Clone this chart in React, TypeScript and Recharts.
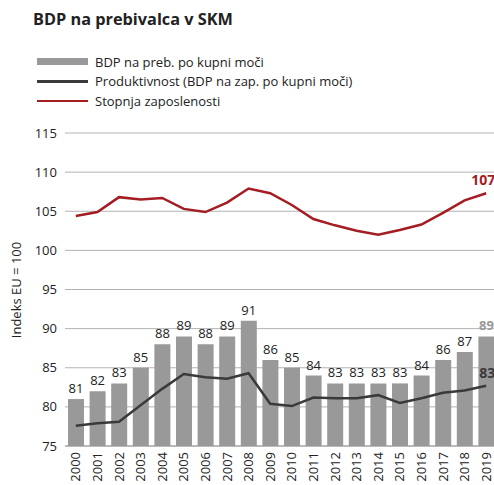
import { ComposedChart, Bar, Line, XAxis, YAxis, CartesianGrid, LabelList } from "recharts"

const years = ["2000", "2001", "2002", "2003", "2004", "2005", "2006", "2007", "2008", "2009", "2010", "2011", "2012", "2013", "2014", "2015", "2016", "2017", "2018", "2019"]
const bdpPerCapita = [81, 82, 83, 85, 88, 89, 88, 89, 91, 86, 85, 84, 83, 83, 83, 83, 84, 86, 87, 89]
const productivity = [77.6, 77.9, 78.1, 80.2, 82.3, 84.2, 83.8, 83.6, 84.3, 80.4, 80.1, 81.2, 81.1, 81.1, 81.5, 80.5, 81.1, 81.8, 82.1, 82.7]
const employmentRate = [104.4, 104.9, 106.8, 106.5, 106.7, 105.3, 104.9, 106.1, 107.9, 107.3, 105.8, 104.0, 103.2, 102.5, 102.0, 102.6, 103.3, 104.8, 106.4, 107.3]
const productivityLast = 83
const employmentLast = 107
const yTicks = [75, 80, 85, 90, 95, 100, 105, 110, 115]

const data = years.map((year, i) => ({
  year,
  bdp: bdpPerCapita[i],
  prod: productivity[i],
  emp: employmentRate[i],
}))

const FONT = "'Open Sans', sans-serif"
const BAR = "#999999"
const DARK = "#3a3a3a"
const RED = "#a31d23"
const last = years.length - 1

const legendItems = [
  { label: "BDP na preb. po kupni moči", color: BAR, bar: true },
  { label: "Produktivnost (BDP na zap. po kupni moči)", color: DARK, bar: false },
  { label: "Stopnja zaposlenosti", color: RED, bar: false },
]

function YearTick(props: any) {
  const { x, y, payload } = props
  return (
    <text
      x={x}
      y={y}
      dy="0.35em"
      transform={`rotate(-90 ${x} ${y})`}
      textAnchor="end"
      fontSize={13}
      fontFamily={FONT}
      fill="#222"
    >
      {payload.value}
    </text>
  )
}

function BarValue(props: any) {
  const { x, y, width, value, index } = props
  const isLast = index === last
  return (
    <text
      x={x + width / 2}
      y={y - 6}
      textAnchor="middle"
      fontSize={13}
      fontFamily={FONT}
      fontWeight={isLast ? 700 : 400}
      fill={isLast ? BAR : "#222"}
    >
      {value}
    </text>
  )
}

function EndValue(color: string, text: number) {
  return (props: any) => {
    const { x, y, index } = props
    if (index !== last) return null
    return (
      <text x={x + 9} y={y - 8} textAnchor="end" fontSize={14} fontFamily={FONT} fontWeight={700} fill={color}>
        {text}
      </text>
    )
  }
}

export default function App() {
  return (
    <div style={{ position: "absolute", left: 0, top: 0, width: 494, height: 485, overflow: "hidden", background: "#fff", fontFamily: FONT }}>
      <div style={{ position: "absolute", left: 33, top: 8, fontSize: 16.3, fontWeight: 700, color: "#222" }}>
        BDP na prebivalca v SKM
      </div>
      <div style={{ position: "absolute", left: 37, top: 52 }}>
        {legendItems.map((item) => (
          <div key={item.label} style={{ display: "flex", alignItems: "center", height: 19.5, fontSize: 13, color: "#222" }}>
            <span
              style={{
                display: "inline-block",
                width: 51,
                height: item.bar ? 7 : 2.5,
                background: item.color,
                marginRight: 7,
              }}
            />
            {item.label}
          </div>
        ))}
      </div>
      <ComposedChart width={497} height={485} data={data} margin={{ top: 133, right: 0, bottom: 1, left: 0 }}>
        <CartesianGrid vertical={false} stroke="#b3b3b3" strokeWidth={1} />
        <XAxis
          dataKey="year"
          height={38}
          tickSize={0}
          tickMargin={6}
          tick={YearTick}
          interval={0}
          axisLine={{ stroke: "#999" }}
        />
        <YAxis
          domain={[75, 115]}
          ticks={yTicks}
          width={65}
          tickSize={0}
          tickMargin={8}
          axisLine={false}
          tick={{ fontSize: 13, fontFamily: FONT, fill: "#222" }}
          label={{
            value: "Indeks EU = 100",
            content: () => (
              <text x={16} y={290} transform="rotate(-90 16 290)" textAnchor="middle" dy="0.35em" fontSize={13} fontFamily={FONT} fill="#222">
                Indeks EU = 100
              </text>
            ),
          }}
        />
        <Bar dataKey="bdp" fill={BAR} barSize={16} isAnimationActive={false}>
          <LabelList dataKey="bdp" content={BarValue} />
        </Bar>
        <Line dataKey="prod" stroke={DARK} strokeWidth={2.5} dot={false} isAnimationActive={false}>
          <LabelList dataKey="prod" content={EndValue(DARK, productivityLast)} />
        </Line>
        <Line dataKey="emp" stroke={RED} strokeWidth={2.5} dot={false} isAnimationActive={false}>
          <LabelList dataKey="emp" content={EndValue(RED, employmentLast)} />
        </Line>
      </ComposedChart>
    </div>
  )
}
